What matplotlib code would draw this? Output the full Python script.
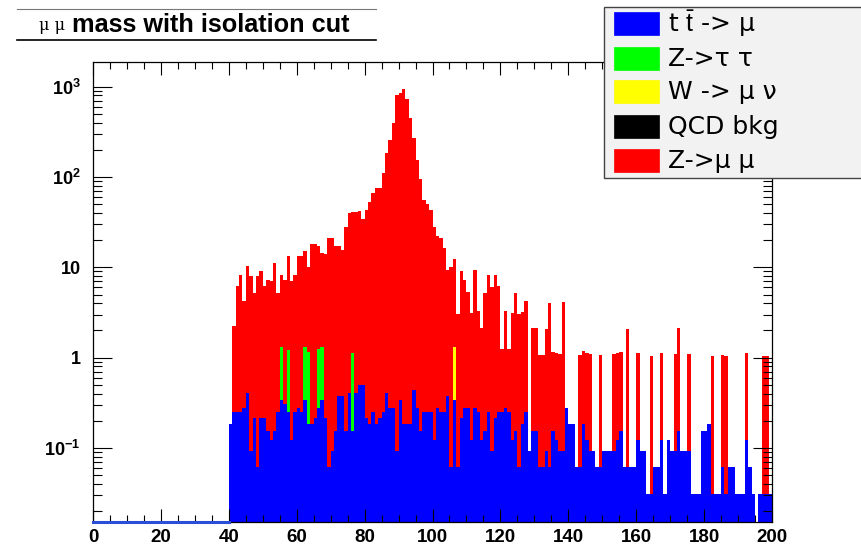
import numpy as np
import matplotlib.pyplot as plt
from matplotlib.patches import Rectangle
from matplotlib.lines import Line2D
from matplotlib.ticker import FixedLocator, MultipleLocator, LogLocator, NullFormatter

plt.rcParams['font.family'] = ['Liberation Sans', 'DejaVu Sans']
plt.rcParams['mathtext.fontset'] = 'custom'
plt.rcParams['mathtext.rm'] = 'Liberation Sans'
plt.rcParams['mathtext.bf'] = 'Liberation Sans:bold'

# histogram: 1 GeV bins, data filled from 40 to 200
first_bin = 40
last_edge = 200

# t tbar -> mu (blue)
ttbar = [
    0.186, 0.248, 0.248, 0.248, 0.279, 0.403, 0.093, 0.217, 0.062, 0.217,
    0.217, 0.155, 0.124, 0.155, 0.248, 0.341, 0.310, 0.248, 0.124, 0.248,
    0.279, 0.248, 0.341, 0.186, 0.186, 0.217, 0.279, 0.341, 0.217, 0.062,
    0.093, 0.155, 0.372, 0.372, 0.155, 0.403, 0.155, 0.403, 0.496, 0.496,
    0.217, 0.186, 0.248, 0.186, 0.217, 0.248, 0.403, 0.279, 0.279, 0.093,
    0.341, 0.186, 0.186, 0.186, 0.434, 0.279, 0.155, 0.248, 0.248, 0.248,
    0.124, 0.279, 0.248, 0.248, 0.372, 0.062, 0.341, 0.062, 0.217, 0.279,
    0.279, 0.124, 0.279, 0.248, 0.124, 0.155, 0.248, 0.093, 0.217, 0.248,
    0.248, 0.279, 0.248, 0.124, 0.155, 0.062, 0.186, 0.248, 0.093, 0.155,
    0.155, 0.062, 0.062, 0.093, 0.062, 0.155, 0.124, 0.093, 0.093, 0.279,
    0.186, 0.186, 0.062, 0.062, 0.186, 0.124, 0.093, 0.093, 0.062, 0.062,
    0.093, 0.093, 0.093, 0.093, 0.124, 0.155, 0.062, 0.062, 0.062, 0.062,
    0.124, 0.093, 0.093, 0.031, 0.031, 0.062, 0.062, 0.124, 0.031, 0.124,
    0.093, 0.093, 0.155, 0.093, 0.093, 0.093, 0.031, 0.031, 0.031, 0.155,
    0.155, 0.186, 0.031, 0.031, 0.031, 0.062, 0.031, 0.062, 0.062, 0.031,
    0.031, 0.031, 0.124, 0.062, 0.031, 0.0, 0.031, 0.031, 0.031, 0.031,
]

# Z -> tau tau (green), only a few bins
ztautau_bins = [55, 57, 62, 63, 66, 67, 76]
ztautau_vals = [0.98, 0.98, 0.98, 0.98, 0.98, 0.98, 0.98]

# W -> mu nu (yellow)
wmunu_bins = [106]
wmunu_vals = [0.97]

# QCD bkg (black): nothing passes the cut
qcd_bins = []
qcd_vals = []

# Z -> mu mu (red)
zmumu = [
    0, 2, 6, 8, 4, 10, 8, 5, 8, 9,
    6, 7, 7, 11, 5, 7, 7, 12, 7, 8,
    13, 13, 14, 9, 18, 18, 16, 13, 14, 21,
    21, 17, 17, 15, 28, 39, 40, 41, 41, 34,
    43, 53, 66, 75, 75, 110, 183, 256, 392, 805,
    855, 931, 721, 445, 267, 154, 94, 55, 50, 43,
    28, 22, 21, 16, 9, 10, 11, 3, 9, 7,
    5, 3, 9, 3, 2, 5, 8, 6, 8, 6,
    1, 3, 1, 3, 5, 3, 3, 4, 0, 2,
    2, 1, 1, 2, 4, 1, 1, 1, 4, 0,
    0, 0, 0, 1, 1, 1, 1, 0, 0, 1,
    0, 0, 0, 1, 1, 1, 0, 2, 0, 0,
    1, 0, 0, 0, 1, 0, 0, 1, 0, 0,
    0, 1, 2, 0, 0, 1, 0, 0, 0, 0,
    0, 0, 1, 0, 0, 1, 1, 0, 0, 0,
    0, 0, 1, 0, 0, 0, 0, 1, 1, 0,
]

labels = [r't $\bar{\mathrm{t}}$ -> μ', 'Z->τ τ', 'W -> μ ν', 'QCD bkg', 'Z->μ μ']
colors = ['#0000ff', '#00ff00', '#ffff00', '#000000', '#ff0000']

edges = np.arange(first_bin, last_edge + 1)
nb = len(edges) - 1


def sparse(bins, vals):
    h = np.zeros(nb)
    for b, v in zip(bins, vals):
        h[b - first_bin] = v
    return h


h_tt = np.array(ttbar)
h_ztt = sparse(ztautau_bins, ztautau_vals)
h_w = sparse(wmunu_bins, wmunu_vals)
h_qcd = sparse(qcd_bins, qcd_vals)
h_zmm = np.array(zmumu, dtype=float)

# THStack style: draw cumulative sums, largest first
layers = [h_tt, h_ztt, h_w, h_qcd, h_zmm]
cums = np.cumsum(layers, axis=0)

ymin, ymax = 0.0152, 1870

fig = plt.figure(figsize=(8.61, 5.45), dpi=100)
W, H = 861, 545
ax = fig.add_axes([93 / W, 1 - 522 / H, (772 - 93) / W, (522 - 62) / H])
ax.set_yscale('log')

for i in range(len(layers) - 1, -1, -1):
    vals = np.where(cums[i] > 0, cums[i], 1e-6)
    ax.stairs(vals, edges, fill=True, baseline=1e-6, color=colors[i], lw=0)

# empty bins below 40 drawn on the floor
ax.plot([0, first_bin], [ymin, ymin], color='#2a4fd6', lw=2.2, clip_on=False, zorder=3)

ax.set_xlim(0, 200)
ax.set_ylim(ymin, ymax)

ax.xaxis.set_major_locator(MultipleLocator(20))
ax.xaxis.set_minor_locator(MultipleLocator(5))
ax.yaxis.set_major_locator(FixedLocator([0.1, 1, 10, 100, 1000]))
ax.yaxis.set_minor_locator(LogLocator(base=10, subs=np.arange(2, 10)))
ax.yaxis.set_minor_formatter(NullFormatter())
ax.set_yticklabels([r'$\mathbf{10^{-1}}$', '1', '10', r'$\mathbf{10^{2}}$', r'$\mathbf{10^{3}}$'])

ax.tick_params(which='both', direction='in', top=True, right=True, width=0.8)
ax.tick_params(axis='x', which='major', length=9.5, pad=5, labelsize=13.5)
ax.tick_params(axis='x', which='minor', length=4.7)
ax.tick_params(axis='y', which='major', length=13.5, pad=9, labelsize=13)
ax.tick_params(axis='y', which='minor', length=6.5)
for lab in ax.get_xticklabels() + ax.get_yticklabels():
    lab.set_fontweight('bold')
for s in ax.spines.values():
    s.set_linewidth(0.9)


def fx(px):
    return px / W


def fy(py):
    return 1 - py / H


# title pave
fig.add_artist(Line2D([fx(17), fx(376)], [fy(9), fy(9)], color='#777777', lw=0.8))
fig.add_artist(Line2D([fx(17), fx(376)], [fy(40), fy(40)], color='black', lw=1.2))
fig.text(fx(39), fy(26), 'μ μ', fontsize=11.5, va='center', ha='left', family=['DejaVu Serif'])
fig.text(fx(72), fy(25), 'mass with isolation cut', fontsize=18.2,
         fontweight='bold', va='center', ha='left')

# legend pave
fig.add_artist(Rectangle((fx(604), fy(178)), fx(300), fy(7) - fy(178),
                         transform=fig.transFigure, facecolor='#f2f2f2',
                         edgecolor='#444444', lw=1.0, zorder=5))
row_tops = [12, 47, 80, 115, 149]
for lab, col, top in zip(labels, colors, row_tops):
    fig.add_artist(Rectangle((fx(614), fy(top + 23)), fx(45), fy(top) - fy(top + 23),
                             transform=fig.transFigure, facecolor=col,
                             edgecolor=col, lw=0.5, zorder=6))
    t = fig.text(fx(668), fy(top + 12), lab, fontsize=18, va='center', ha='left',
                 zorder=7)
    t.set_family(['DejaVu Sans'])

fig.savefig('out.png', dpi=100)
